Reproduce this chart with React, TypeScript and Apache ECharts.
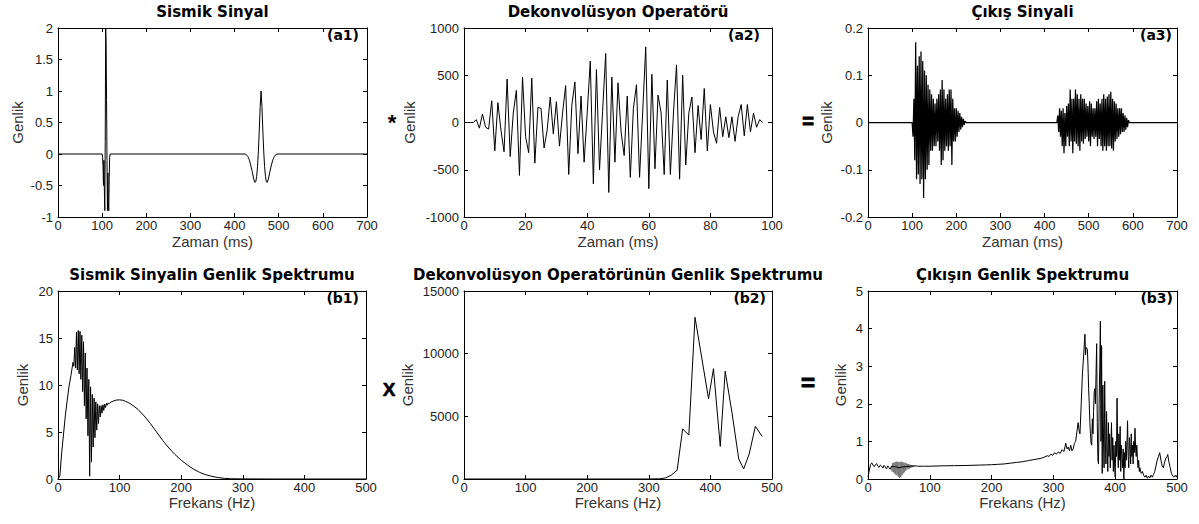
import React, { useEffect, useRef } from "react";
import * as echarts from "echarts";

const FONT = "'Liberation Sans', Arial, Helvetica, sans-serif";
const TITLE_FONT = "'DejaVu Sans', 'Liberation Sans', Arial, sans-serif";

// ---- (a1) input seismic trace: [time ms, amplitude]
const signalTrace: number[][] = [
  [0, 0], [100, 0], [101, -0.05], [102, -0.2], [103, -0.5], [104, -0.1], [105, -0.55], [106, -0.9],
  [107, 0.2], [108, 2.0], [109, 1.75], [110, 0.86], [111, -0.1], [112, -0.9], [113, -0.3], [114, -0.75],
  [115, -0.9], [116, -0.4], [117, -0.05], [118, 0],
  [424, 0], [426, -0.01], [428, -0.02], [430, -0.04], [432, -0.07], [434, -0.11], [436, -0.16], [438, -0.22],
  [440, -0.28], [442, -0.35], [444, -0.41], [446, -0.45], [448, -0.44], [450, -0.36], [452, -0.2], [454, 0.05],
  [456, 0.38], [458, 0.75], [460, 1.0], [462, 0.75], [464, 0.38], [466, 0.05], [468, -0.2], [470, -0.36],
  [472, -0.44], [474, -0.45], [476, -0.41], [478, -0.35], [480, -0.28], [482, -0.22], [484, -0.16], [486, -0.11],
  [488, -0.07], [490, -0.04], [492, -0.02], [494, -0.01], [496, 0], [700, 0],
];

// ---- (a2) deconvolution operator, 1 ms samples starting at 0 ms
const operatorSamples: number[] = [
  0, 0, 0, 0, 30, -60, 90, -50, -70, 230,
  -300, 210, -80, -310, 460, -360, 100, 340, -560, 480,
  -150, -320, 470, -430, 160, 150, -270, -80, 270, -120,
  220, -250, 100, 390, -550, 180, 430, -330, 280, -420,
  100, 650, -650, 560, -500, 120, 730, -740, 480, -420,
  420, -100, -350, 280, -580, 150, 400, -580, 100, 800,
  -700, 510, -490, 290, 100, -550, 450, -550, 100, 610,
  -600, 500, -450, 100, 270, -320, 180, -180, 360, -300,
  190, -100, -220, 160, -150, 60, -160, 60, -200, 60,
  190, -140, 190, -100, 100, -50, 30, 0,
];

// ---- (a3) output trace: two bursts sampled every 2 ms
const outputStep = 2;
const outputBurst1Start = 102;
const outputBurst1: number[] = [
  -0.03, 0.05, -0.08, 0.17, -0.12, 0.12, -0.11, 0.14, -0.13, 0.15,
  -0.12, 0.13, -0.16, 0.11, -0.12, 0.1, -0.1, 0.08, -0.09, 0.07,
  -0.06, 0.06, -0.06, 0.05, -0.05, 0.04, -0.05, 0.05, -0.04, 0.06,
  -0.06, 0.07, -0.09, 0.09, -0.08, 0.07, -0.06, 0.05, -0.05, 0.06,
  -0.06, 0.07, -0.05, 0.07, -0.09, 0.05, -0.04, 0.03, -0.04, 0.03,
  -0.03, 0.025, -0.02, 0.02, -0.015, 0.012, -0.01, 0.008, -0.005, 0.003,
  0,
];
const outputBurst2Start = 428;
const outputBurst2: number[] = [
  0, 0.015, -0.02, 0.03, -0.03, 0.025, -0.05, 0.03, -0.065, 0.02,
  -0.05, 0.035, -0.03, 0.04, -0.05, 0.07, -0.04, 0.05, -0.065, 0.05,
  -0.04, 0.07, -0.045, 0.06, -0.05, 0.05, -0.06, 0.06, -0.04, 0.05,
  -0.045, 0.05, -0.035, 0.04, -0.03, 0.035, -0.04, 0.045, -0.05, 0.04,
  -0.03, 0.03, -0.035, 0.03, -0.03, 0.045, -0.05, 0.05, -0.035, 0.04,
  -0.05, 0.05, -0.06, 0.06, -0.05, 0.05, -0.06, 0.055, -0.05, 0.06,
  -0.05, 0.065, -0.055, 0.05, -0.06, 0.045, -0.04, 0.04, -0.035, 0.03,
  -0.03, 0.03, -0.025, 0.03, -0.02, 0.02, -0.02, 0.015, -0.015, 0.01,
  -0.01, 0.005, 0,
];

// ---- (b1) amplitude spectrum of the input: [Hz, amplitude]
const signalSpectrum: number[][] = [
  [0, 0], [3, 0.3], [6, 2.8], [9, 4.8], [12, 6.8], [15, 8.4], [18, 9.9], [21, 11], [24.3, 12.4],
  [25.7, 12.0], [27.1, 14.0], [28.6, 11.8], [30.0, 15.6], [31.4, 11.6], [32.9, 15.8], [34.3, 11.2],
  [35.7, 15.7], [37.1, 10.6], [38.6, 15.3], [40.0, 9.3], [41.4, 14.6], [42.9, 7.8], [44.3, 13.4],
  [45.7, 6.4], [47.1, 11.8], [48.6, 4.6], [50.0, 10.6], [51.4, 0.3], [52.9, 9.8], [54.3, 1.8],
  [55.7, 9.0], [57.1, 3.4], [58.6, 8.6], [60.0, 4.4], [61.4, 8.2], [62.9, 5.2], [64.3, 8.0],
  [65.7, 5.9], [67.1, 7.8], [68.6, 6.6], [70.0, 7.8], [71.4, 7.0], [72.9, 7.9], [74.3, 7.3],
  [75.7, 7.95], [77.1, 7.6], [78.6, 8.05], [80.0, 7.85], [81.4, 8.1], [82.9, 8.0], [85, 8.15],
  [90, 8.3], [95, 8.4], [100, 8.42], [105, 8.38], [110, 8.25], [115, 8.1], [120, 7.9], [130, 7.4],
  [140, 6.7], [150, 5.9], [160, 5.0], [170, 4.1], [180, 3.3], [190, 2.6], [200, 2.0], [210, 1.5],
  [220, 1.05], [230, 0.7], [240, 0.45], [250, 0.28], [260, 0.15], [270, 0.07], [280, 0.03],
  [300, 0.01], [350, 0], [500, 0],
];

// ---- (b2) amplitude spectrum of the operator: [Hz, amplitude]
const operatorSpectrum: number[][] = [
  [0, 0], [300, 0], [317, 15], [327, 80], [336, 290], [346, 700], [355, 4000], [365, 3500],
  [375, 12900], [397, 6400], [405, 8800], [416, 2600], [424, 8600], [435, 5300], [446, 1600],
  [454, 800], [463, 2000], [473, 4200], [484, 3400],
];

// ---- (b3) amplitude spectrum of the output: [Hz, amplitude]
const outputSpectrum: number[][] = [
  [0, 0.05], [2, 0.22], [4, 0.38], [6, 0.43], [8, 0.37], [10, 0.33], [12, 0.38], [14, 0.41],
  [16, 0.34], [18, 0.31], [20, 0.37], [22, 0.34], [24, 0.29], [26, 0.36], [28, 0.32], [30, 0.27],
  [32, 0.35], [34, 0.3], [36, 0.26], [38, 0.34], [44, 0.33], [50, 0.3], [56, 0.32], [62, 0.33],
  [68, 0.34], [76, 0.35], [80, 0.34], [90, 0.34], [100, 0.34], [120, 0.35], [140, 0.355],
  [160, 0.36], [180, 0.37], [190, 0.375], [200, 0.38], [210, 0.39], [220, 0.4], [230, 0.42],
  [240, 0.44], [250, 0.46], [260, 0.49], [270, 0.52], [280, 0.55], [285, 0.58], [290, 0.62],
  [293, 0.6], [296, 0.66], [299, 0.63], [302, 0.7], [305, 0.66], [308, 0.72], [311, 0.68],
  [314, 0.78], [317, 0.73], [320, 0.95], [322, 0.8], [324, 0.85], [326, 0.75], [328, 0.9],
  [330, 0.75], [332, 0.8], [334, 0.95], [336, 1.0], [338, 1.25], [340, 1.5], [342, 1.25],
  [343, 1.2], [345, 2.0], [347, 2.8], [349, 3.3], [351, 3.85], [352, 3.3], [353, 3.5], [355, 3.45],
  [356, 3.0], [357, 2.4], [358, 2.0], [359, 1.5], [360, 1.2], [361, 0.95], [362, 0.9], [363, 1.6],
  [364, 1.2], [365, 1.8], [366, 2.3], [367, 2.4], [368, 2.0], [369, 2.8], [370, 3.6], [371, 1.5],
  [372, 0.5], [373, 0.4], [374, 2.0], [375, 3.0], [376, 4.2], [377, 1.0], [378, 3.55], [379, 0.15],
  [380, 2.5], [381, 1.2], [382, 0.3], [383, 2.6], [384, 1.0], [385, 0.4], [386, 1.8], [387, 0.8],
  [388, 0.2], [389, 1.5], [390, 0.6], [391, 1.2], [392, 0.3], [393, 0.8], [394, 1.5], [395, 0.5],
  [396, 1.1], [397, 0.2], [398, 0.9], [399, 0.4], [400, 0.05], [401, 1.0], [402, 0.6], [403, 2.15],
  [404, 0.8], [405, 0.3], [406, 1.2], [407, 0.5], [408, 1.4], [409, 0.2], [410, 0.9], [411, 0.6],
  [412, 0.3], [413, 0.8], [414, 0.0], [415, 0.7], [416, 0.3], [417, 1.0], [418, 0.5], [419, 0.9],
  [420, 1.55], [421, 0.6], [422, 0.3], [423, 1.1], [424, 0.9], [425, 0.4], [426, 1.2], [427, 0.6],
  [428, 0.9], [429, 0.4], [430, 1.0], [431, 0.7], [432, 1.35], [433, 0.8], [434, 0.6], [435, 0.9],
  [436, 0.5], [437, 0.3], [438, 0.5], [439, 0.2], [440, 0.3], [442, 0.15], [444, 0.2], [446, 0.1],
  [448, 0.05], [450, 0.1], [452, 0.02], [454, 0.08], [456, 0.03], [458, 0.1], [460, 0.05],
  [462, 0.12], [464, 0.2], [466, 0.35], [468, 0.5], [470, 0.6], [472, 0.7], [474, 0.5], [476, 0.35],
  [478, 0.3], [480, 0.45], [482, 0.55], [484, 0.6], [485, 0.65], [487, 0.45], [489, 0.3],
  [491, 0.15], [493, 0.08], [495, 0.05], [497, 0.1], [499, 0.05], [500, 0.1],
];
// rapid ripple around 50 Hz, drawn lighter over the base curve
const outputSpectrumRipple: number[][] = [
  [38, 0.34], [39, 0.2], [40, 0.42], [41, 0.18], [42, 0.44], [43, 0.15], [44, 0.45], [45, 0.12],
  [46, 0.46], [47, 0.1], [48, 0.45], [49, 0.06], [50, 0.46], [51, 0.03], [52, 0.45], [53, 0.05],
  [54, 0.46], [55, 0.1], [56, 0.45], [57, 0.15], [58, 0.44], [59, 0.18], [60, 0.43], [61, 0.22],
  [62, 0.42], [63, 0.25], [64, 0.4], [65, 0.27], [66, 0.4], [67, 0.28], [68, 0.38], [69, 0.3],
  [70, 0.37], [71, 0.31], [72, 0.36], [73, 0.32], [74, 0.35], [75, 0.33],
];

// ---- panel texts and axis ranges
const panelTitles = [
  "Sismik Sinyal", "Dekonvolüsyon Operatörü", "Çıkış Sinyali",
  "Sismik Sinyalin Genlik Spektrumu", "Dekonvolüsyon Operatörünün Genlik Spektrumu", "Çıkışın Genlik Spektrumu",
];
const panelTags = ["(a1)", "(a2)", "(a3)", "(b1)", "(b2)", "(b3)"];
const xAxisNames = ["Zaman (ms)", "Zaman (ms)", "Zaman (ms)", "Frekans (Hz)", "Frekans (Hz)", "Frekans (Hz)"];
const yAxisName = "Genlik";
// [min, max, interval]
const xRanges = [[0, 700, 100], [0, 100, 20], [0, 700, 100], [0, 500, 100], [0, 500, 100], [0, 500, 100]];
const yRanges = [[-1, 2, 0.5], [-1000, 1000, 500], [-0.2, 0.2, 0.1], [0, 20, 5], [0, 15000, 5000], [0, 5, 1]];
const operatorSymbols = ["*", "=", "X", "="];

// ---- layout (pixels)
const grids = [
  { left: 58, top: 28, width: 309, height: 189 },
  { left: 464, top: 28, width: 308, height: 189 },
  { left: 868, top: 28, width: 309, height: 189 },
  { left: 58, top: 291, width: 308, height: 188 },
  { left: 464, top: 291, width: 308, height: 188 },
  { left: 868, top: 291, width: 309, height: 188 },
];
const yNameGaps = [33, 47, 34, 28, 49, 20];
const xNameGaps = [17, 17, 17, 13, 13, 13];
const tagPositions = [[359, 35], [760, 35], [1172, 35], [359, 298], [766, 298], [1173, 298]];
const titleY = [12, 12, 12, 275, 275, 275];
const symbolLayout = [
  { x: 392, y: 122, size: 22, stroke: 0 },
  { x: 808, y: 121, size: 20, stroke: 1 },
  { x: 389, y: 389, size: 19, stroke: 0.6 },
  { x: 808, y: 382, size: 24, stroke: 1 },
];
// trace width per panel
const lineWidths = [1, 1, 1.25, 1, 1, 1];

const fmt = (v: number) => String(Math.round(v * 1e6) / 1e6);

function sampled(start: number, step: number, values: number[]): number[][] {
  return values.map((v, i) => [start + i * step, v]);
}

function buildOption() {
  const xAxis: any[] = [];
  const yAxis: any[] = [];
  const grid: any[] = [];
  const graphic: any[] = [];

  const axisBase = {
    type: "value",
    splitLine: { show: false },
    axisLine: { show: true, onZero: false, lineStyle: { color: "#000", width: 1 } },
    axisTick: { show: true, inside: true, length: 4, lineStyle: { color: "#000", width: 1 } },
  };
  const labelStyle = { color: "#222", fontSize: 13, fontFamily: FONT, formatter: fmt, showMinLabel: true, showMaxLabel: true };
  const nameStyle = { color: "#333", fontSize: 15, fontFamily: FONT };

  grids.forEach((g, i) => {
    grid.push({ ...g, containLabel: false });
    const [x0, x1, xi] = xRanges[i];
    const [y0, y1, yi] = yRanges[i];
    xAxis.push({
      ...axisBase, gridIndex: i, position: "bottom", min: x0, max: x1, interval: xi,
      axisLabel: { ...labelStyle, margin: 2 },
      name: xAxisNames[i], nameLocation: "middle", nameGap: xNameGaps[i], nameTextStyle: nameStyle,
    });
    xAxis.push({ ...axisBase, gridIndex: i, position: "top", min: x0, max: x1, interval: xi, axisLabel: { show: false } });
    yAxis.push({
      ...axisBase, gridIndex: i, position: "left", min: y0, max: y1, interval: yi,
      axisLabel: { ...labelStyle, margin: 5 },
      name: yAxisName, nameLocation: "middle", nameGap: yNameGaps[i], nameTextStyle: nameStyle,
    });
    yAxis.push({ ...axisBase, gridIndex: i, position: "right", min: y0, max: y1, interval: yi, axisLabel: { show: false } });

    graphic.push({
      type: "text", x: g.left + g.width / 2, y: titleY[i], silent: true,
      style: { text: panelTitles[i], fill: "#000", fontSize: 15, fontWeight: "bold", fontFamily: TITLE_FONT, textAlign: "center", textVerticalAlign: "middle" },
    });
    graphic.push({
      type: "text", x: tagPositions[i][0], y: tagPositions[i][1], silent: true,
      style: { text: panelTags[i], fill: "#000", fontSize: 14, fontWeight: "bold", fontFamily: TITLE_FONT, textAlign: "right", textVerticalAlign: "middle" },
    });
  });

  operatorSymbols.forEach((s, i) => {
    const l = symbolLayout[i];
    graphic.push({
      type: "text", x: l.x, y: l.y, silent: true,
      style: {
        text: s, fill: "#000", fontSize: l.size, fontWeight: "bold", fontFamily: FONT,
        textAlign: "center", textVerticalAlign: "middle",
        stroke: l.stroke ? "#000" : undefined, lineWidth: l.stroke,
      },
    });
  });

  const line = (idx: number, data: number[][], color = "#000") => ({
    type: "line", xAxisIndex: idx * 2, yAxisIndex: idx * 2, data, showSymbol: false, symbol: "none",
    silent: true, clip: true, lineStyle: { color, width: lineWidths[idx] },
  });

  const outputTrace = [
    [0, 0], [100, 0],
    ...sampled(outputBurst1Start, outputStep, outputBurst1),
    [426, 0],
    ...sampled(outputBurst2Start, outputStep, outputBurst2),
    [700, 0],
  ];

  const series = [
    line(0, signalTrace),
    line(1, sampled(0, 1, operatorSamples)),
    line(2, outputTrace),
    line(3, signalSpectrum),
    line(4, operatorSpectrum),
    line(5, outputSpectrumRipple, "#777"),
    line(5, outputSpectrum),
  ];

  return { animation: false, backgroundColor: "#fff", grid, xAxis, yAxis, series, graphic };
}

export default function App() {
  const ref = useRef<HTMLDivElement>(null);
  useEffect(() => {
    document.body.style.margin = "0";
    if (!ref.current) return;
    const chart = echarts.init(ref.current, undefined, { renderer: "svg" });
    chart.setOption(buildOption() as any);
    return () => chart.dispose();
  }, []);
  return <div ref={ref} style={{ width: 1199, height: 524, background: "#fff" }} />;
}
